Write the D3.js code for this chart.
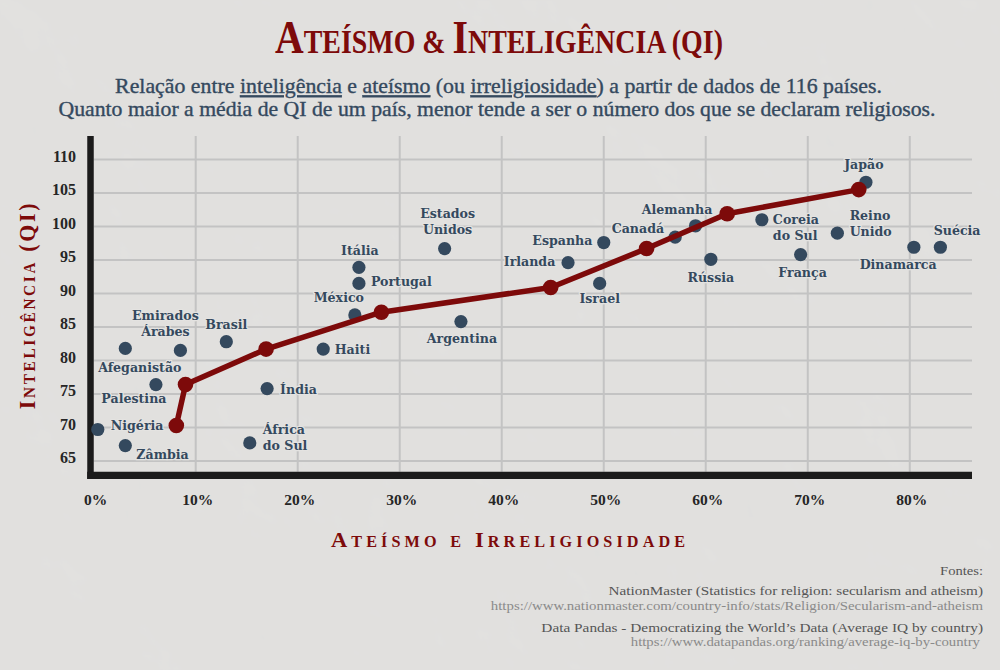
<!DOCTYPE html>
<html>
<head>
<meta charset="utf-8">
<script src="https://cdn.jsdelivr.net/npm/d3@7"></script>
<style>
  body { margin: 0; background: #e2e1df; }
  svg { display: block; }
</style>
</head>
<body>
<svg width="1000" height="670"></svg>
<script>
// Countries: % atheism / irreligion and average IQ
const countries = ['Nigéria', 'Zâmbia', 'Afeganistão', 'Emirados Árabes', 'Palestina', 'Brasil',
  'Índia', 'África do Sul', 'Haiti', 'México', 'Portugal', 'Itália', 'Estados Unidos', 'Argentina',
  'Irlanda', 'Espanha', 'Israel', 'Canadá', 'Alemanha', 'Rússia', 'Coreia do Sul', 'França',
  'Reino Unido', 'Japão', 'Dinamarca', 'Suécia']
const atheism = [0.4, 3.1, 3.1, 8.5, 6.1, 13.0, 17.0, 15.3, 22.5, 25.6, 26.0, 26.0, 34.4, 36.0,
  46.5, 50.0, 49.6, 57.0, 59.0, 60.5, 65.5, 69.3, 72.9, 75.7, 80.4, 83.0]
const iq = [69.7, 67.3, 81.8, 81.5, 76.4, 82.8, 75.8, 67.7, 81.7, 86.8, 91.5, 93.9, 96.7, 85.8,
  94.6, 97.6, 91.5, 98.4, 100.1, 95.1, 101.0, 95.8, 99.0, 106.6, 96.9, 96.9]

// Trend line (average IQ by atheism group)
const trendAtheism = [8.1, 9.0, 16.9, 28.2, 44.8, 54.2, 62.1, 75.0]
const trendIQ = [70.3, 76.4, 81.7, 87.2, 90.9, 96.7, 101.9, 105.5]

const xTicks = [0, 10, 20, 30, 40, 50, 60, 70, 80]
const yTicks = [65, 70, 75, 80, 85, 90, 95, 100, 105, 110]

const sources = [
  ['NationMaster (Statistics for religion: secularism and atheism)',
    'https://www.nationmaster.com/country-info/stats/Religion/Secularism-and-atheism'],
  ['Data Pandas - Democratizing the World’s Data (Average IQ by country)',
    'https://www.datapandas.org/ranking/average-iq-by-country']
]

// label placement: anchor, dx, dy, wrap into two lines
const labelPos = {
  'Nigéria': ['start', 13, 1],
  'Zâmbia': ['start', 11, 13.5],
  'Afeganistão': ['middle', 14.5, 23.5],
  'Emirados Árabes': ['middle', -15, -30, true],
  'Palestina': ['middle', -22, 18],
  'Brasil': ['middle', 0, -13],
  'Índia': ['start', 13, 5],
  'África do Sul': ['start', 13, -8.7, true],
  'Haiti': ['start', 11.5, 4.5],
  'México': ['middle', -16, -13],
  'Portugal': ['start', 12, 2.5],
  'Itália': ['middle', 1, -12.7],
  'Estados Unidos': ['middle', 3, -30.7, true],
  'Argentina': ['middle', 1, 21],
  'Irlanda': ['end', -12.7, 3.5],
  'Espanha': ['end', -11.3, 2.5],
  'Israel': ['middle', 0, 20],
  'Canadá': ['end', -11, -3.7],
  'Alemanha': ['middle', -18.5, -12],
  'Rússia': ['middle', 0, 22.7],
  'Coreia do Sul': ['start', 11, 4.5, true],
  'França': ['middle', 2, 22],
  'Reino Unido': ['start', 12.3, -13, true],
  'Japão': ['middle', -2, -13],
  'Dinamarca': ['middle', -15.7, 22],
  'Suécia': ['middle', 16.7, -12.7]
}

const RED = '#7d0a0a'
const BLUE = '#34495e'
const serif = '"Liberation Serif", serif'
const labelFont = '"DejaVu Serif", serif'

let svg = d3.select('svg')
const width = +svg.attr('width')
const height = +svg.attr('height')

// stretch a text horizontally to a target width
const fit = (sel, w, tf) => {
  const len = sel.node().getBBox().width
  sel.attr('transform', `${tf} scale(${w / len},1)`)
}

// Paper background
const defs = svg.append('defs')
const paper = defs.append('filter').attr('id', 'paper').attr('x', 0).attr('y', 0)
  .attr('width', '100%').attr('height', '100%')
paper.append('feTurbulence').attr('type', 'fractalNoise').attr('baseFrequency', 0.008)
  .attr('numOctaves', 4).attr('seed', 7).attr('result', 'noise')
paper.append('feDiffuseLighting').attr('in', 'noise').attr('lighting-color', '#ecebe9')
  .attr('surfaceScale', 1.2)
  .append('feDistantLight').attr('azimuth', 135).attr('elevation', 62)

svg.append('rect').attr('width', width).attr('height', height).attr('fill', '#e3e2e0')
svg.append('rect').attr('width', width).attr('height', height)
  .attr('filter', 'url(#paper)').attr('opacity', 0.35)

// Scales
const x = d3.scaleLinear().domain([0, 86.1]).range([93.7, 972])
const y = d3.scaleLinear().domain([63.4, 113.5]).range([471.7, 136])

// Grid
const grid = svg.append('g').attr('stroke', '#c3c3c3').attr('stroke-width', 2)
grid.selectAll('.h').data(yTicks).enter().append('line')
  .attr('x1', x(0)).attr('x2', x(86.1))
  .attr('y1', d => y(d)).attr('y2', d => y(d))
grid.selectAll('.v').data(xTicks.slice(1)).enter().append('line')
  .attr('x1', d => x(d)).attr('x2', d => x(d))
  .attr('y1', y(113.5)).attr('y2', y(63.4))

// Axis lines
svg.append('line').attr('x1', x(0) - 3.2).attr('x2', x(0) - 3.2)
  .attr('y1', y(113.5)).attr('y2', y(63.4) + 7.3)
  .attr('stroke', '#1b1b1b').attr('stroke-width', 6.5)
svg.append('line').attr('x1', x(0) - 6.5).attr('x2', x(86.1))
  .attr('y1', y(63.4) + 3.6).attr('y2', y(63.4) + 3.6)
  .attr('stroke', '#1b1b1b').attr('stroke-width', 7.3)

// Tick labels
svg.append('g').selectAll('text').data(yTicks).enter().append('text')
  .attr('x', 76).attr('y', d => y(d) + 2.5)
  .attr('text-anchor', 'end')
  .attr('font-family', serif).attr('font-weight', 'bold').attr('font-size', 16)
  .attr('fill', '#262626')
  .text(d => d)
svg.append('g').selectAll('text').data(xTicks).enter().append('text')
  .attr('x', d => x(d) + 2).attr('y', 505)
  .attr('text-anchor', 'middle')
  .attr('font-family', serif).attr('font-weight', 'bold').attr('font-size', 15.5)
  .attr('fill', '#262626')
  .text(d => d + '%')

// Country dots
const pts = countries.map((c, i) => ({ name: c, ath: atheism[i], iq: iq[i] }))
svg.append('g').selectAll('circle').data(pts).enter().append('circle')
  .attr('cx', d => x(d.ath)).attr('cy', d => y(d.iq)).attr('r', 6.6)
  .attr('fill', BLUE)

// Country labels
const labels = svg.append('g')
  .attr('font-family', labelFont).attr('font-weight', 'bold').attr('font-size', 12.6)
  .attr('fill', BLUE)
  .style('paint-order', 'stroke').attr('stroke', '#e4e3e1').attr('stroke-width', 2.5)
  .attr('stroke-linejoin', 'round')
pts.forEach(d => {
  const [anchor, dx, dy, wrap] = labelPos[d.name]
  const k = d.name.indexOf(' ')
  const lines = wrap ? [d.name.slice(0, k), d.name.slice(k + 1)] : [d.name]
  const t = labels.append('text').attr('text-anchor', anchor)
  lines.forEach((l, j) => {
    t.append('tspan').attr('x', x(d.ath) + dx).attr('y', y(d.iq) + dy + j * 15.8).text(l)
  })
})

// Trend line
const trend = trendAtheism.map((a, i) => [a, trendIQ[i]])
svg.append('path').datum(trend)
  .attr('d', d3.line().x(d => x(d[0])).y(d => y(d[1])))
  .attr('fill', 'none').attr('stroke', RED).attr('stroke-width', 5.5)
  .attr('stroke-linejoin', 'round')
svg.append('g').selectAll('circle').data(trend).enter().append('circle')
  .attr('cx', d => x(d[0])).attr('cy', d => y(d[1])).attr('r', 7.8)
  .attr('fill', RED)

// Title
const title = svg.append('text').attr('text-anchor', 'middle')
  .attr('font-family', serif).attr('font-weight', 'bold').attr('fill', RED)
;[['A', 47], ['TEÍSMO & ', 33], ['I', 47], ['NTELIGÊNCIA (QI)', 33]].forEach(([s, f]) => {
  title.append('tspan').attr('font-size', f).text(s)
})
fit(title, 448, 'translate(499,53.3)')

// Subtitle
const sub1 = svg.append('text').attr('text-anchor', 'middle')
  .attr('font-family', serif).attr('font-size', 20).attr('fill', BLUE)
  .attr('stroke', BLUE).attr('stroke-width', 0.35)
;[['Relação entre ', 0], ['inteligência', 1], [' e ', 0], ['ateísmo', 1], [' (ou ', 0],
  ['irreligiosidade', 1], [') a partir de dados de 116 países.', 0]].forEach(([s, u]) => {
  sub1.append('tspan').style('text-decoration', u ? 'underline' : 'none').text(s)
})
fit(sub1, 767, 'translate(498.5,93.3)')
const sub2 = svg.append('text').attr('text-anchor', 'middle')
  .attr('font-family', serif).attr('font-size', 20).attr('fill', BLUE)
  .attr('stroke', BLUE).attr('stroke-width', 0.35)
  .text('Quanto maior a média de QI de um país, menor tende a ser o número dos que se declaram religiosos.')
fit(sub2, 878, 'translate(497,115.5)')

// Axis titles
const xt = svg.append('text').attr('text-anchor', 'middle')
  .attr('font-family', serif).attr('font-weight', 'bold').attr('font-size', 22)
  .style('font-variant', 'small-caps').style('letter-spacing', '4px')
  .attr('fill', RED).text('Ateísmo e Irreligiosidade')
fit(xt, 347, 'translate(510,546.7)')
const yt = svg.append('text').attr('text-anchor', 'middle')
  .attr('font-family', serif).attr('font-weight', 'bold').attr('font-size', 24)
  .style('font-variant', 'small-caps').style('letter-spacing', '3px')
  .attr('fill', RED).text('Inteligência (QI)')
fit(yt, 210, 'translate(35,305) rotate(-90)')

// Sources
const src = svg.append('g').attr('font-family', serif).attr('font-size', 13.5)
  .attr('text-anchor', 'end')
const f0 = src.append('text').attr('fill', '#555').text('Fontes:')
fit(f0, 43, 'translate(983,574.5)')
const srcW = [[375, 493], [442, 350]]
const srcY = [[594.5, 609.5], [631.5, 645.5]]
sources.forEach(([name, url], i) => {
  const a = src.append('text').attr('fill', '#555').text(name)
  fit(a, srcW[i][0], `translate(983,${srcY[i][0]})`)
  const b = src.append('text').attr('fill', '#8a8a8a').text(url)
  fit(b, srcW[i][1], `translate(${i ? 980 : 983},${srcY[i][1]})`)
})
</script>
</body>
</html>
